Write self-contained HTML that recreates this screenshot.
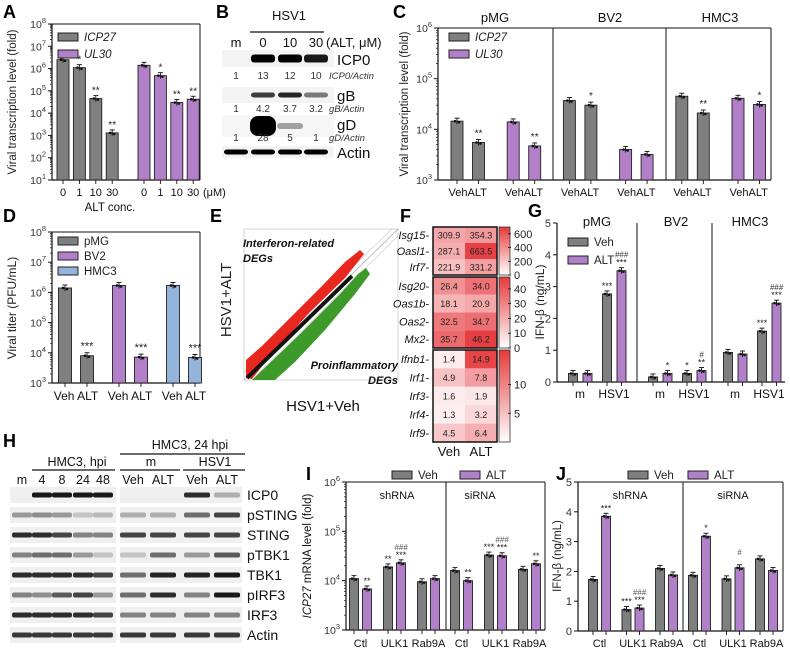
<!DOCTYPE html>
<html><head><meta charset="utf-8"><style>
html,body{margin:0;padding:0;background:#fff;}
svg{display:block;font-family:"Liberation Sans",Arial,sans-serif;}
</style></head><body>
<svg id="fig" width="790" height="652" viewBox="0 0 790 652">
<rect x="0" y="0" width="790" height="652" fill="#fff"/>
</svg>
<script>
// ---------- DATA ----------
const A_ticks=["0","1","10","30"];
const A_icp27=[2.5e6,1.1e6,4.5e4,1.3e3];
const A_ul30=[1.4e6,4.8e5,3e4,4.2e4];
const A_stars_icp27=["","*","**","**"];
const A_stars_ul30=["","*","**","**"];
const C_cells=["pMG","BV2","HMC3"];
const C_icp27=[[1.45e4,5.5e3],[3.7e4,3e4],[4.5e4,2.1e4]];
const C_ul30=[[1.4e4,4.7e3],[4e3,3.2e3],[4.1e4,3.1e4]];
const C_stars_icp27=[["","**"],["","*"],["","**"]];
const C_stars_ul30=[["","**"],["",""],["","*"]];
const D_cells=["pMG","BV2","HMC3"];
const D_veh=[1.4e6,1.7e6,1.7e6];
const D_alt=[8e3,7.2e3,7e3];
const D_stars=["***","***","***"];
const F_genes=["Isg15","Oasl1","Irf7","Isg20","Oas1b","Oas2","Mx2","Ifnb1","Irf1","Irf3","Irf4","Irf9"];
const F_veh=[309.9,287.1,221.9,26.4,18.1,32.5,35.7,1.4,4.9,1.6,1.3,4.5];
const F_alt=[354.3,663.5,331.2,34.0,20.9,34.7,46.2,14.9,7.8,1.9,3.2,6.4];
const F_groupSizes=[3,4,5];
const F_groupMax=[700,48,16];
const F_cbTicks=[["600","400","200","0"],["40","30","20","10","0"],["10","5"]];
const F_cbVals=[[600,400,200,0],[40,30,20,10,0],[10,5]];
const G_cells=["pMG","BV2","HMC3"];
const G_conds=["m","HSV1"];
const G_veh=[[0.27,2.77],[0.16,0.27],[0.93,1.6]];
const G_alt=[[0.27,3.5],[0.27,0.36],[0.88,2.48]];
const G_stars_veh=[["","***"],["","*"],["","***"]];
const G_stars_alt=[["","***"],["*","**"],["","***"]];
const G_hash_alt=[["","###"],["","#"],["","###"]];
const IJ_groups=["shRNA","siRNA"];
const IJ_targets=["Ctl","ULK1","Rab9A"];
const I_veh=[[1.1e4,1.9e4,9.5e3],[1.6e4,3.3e4,1.7e4]];
const I_alt=[[6.8e3,2.3e4,1.1e4],[1.0e4,3.2e4,2.2e4]];
const I_stars_veh=[["","**",""],["","***",""]];
const I_stars_alt=[["**","***",""],["**","***","**"]];
const I_hash_alt=[["","###",""],["","###",""]];
const J_veh=[[1.73,0.72,2.1],[1.87,1.75,2.42]];
const J_alt=[[3.85,0.77,1.88],[3.18,2.12,2.03]];
const J_stars_veh=[["","***",""],["","",""]];
const J_stars_alt=[["***","***",""],["*","",""]];
const J_hash_alt=[["","###",""],["","#",""]];
const B_lanes=["m","0","10","30"];
const B_icp0=[0,1,1,0.9];
const B_gB=[0,0.75,0.85,0.5];
const B_gD=[0,1,0.35,0];
const B_actin=[1,1,1,1];
const B_r_icp0=["1","13","12","10"];
const B_r_gB=["1","4.2","3.7","3.2"];
const B_r_gD=["1","28","5","1"];
const H_leftLanes=["m","4","8","24","48"];
const H_rightLanes=["Veh","ALT","Veh","ALT"];
const H_proteins=["ICP0","pSTING","STING","pTBK1","TBK1","pIRF3","IRF3","Actin"];
const H_left=[[0,1,1,1,1],[0.4,0.45,0.4,0.2,0.25],[0.9,0.9,0.8,0.5,0.5],[0.5,0.6,0.6,0.4,0.2],[0.9,0.9,0.9,0.9,0.8],[0.5,0.45,0.7,0.8,0.4],[0.9,0.9,0.9,0.9,0.8],[0.85,0.85,0.85,0.85,0.85]];
const H_right=[[0,0,0.9,0.3],[0.3,0.3,0.6,0.8],[0.8,0.8,0.8,0.8],[0.2,0.6,0.4,0.7],[0.6,0.95,0.95,1],[0.6,0.9,0.5,1],[0.5,0.5,0.5,0.5],[0.85,0.85,0.85,0.85]];

// ---------- HELPERS ----------
const NS='http://www.w3.org/2000/svg';
const svg=document.getElementById('fig');
const GRAY='#7f7f7f',PURP='#b27fc9',BLUE='#94b4dc';
function mk(tag,attrs,name,parent){
  const e=document.createElementNS(NS,tag);
  for(const k in attrs)e.setAttribute(k,attrs[k]);
  
  
  (parent||svg).appendChild(e);return e;
}
function txt(x,y,s,opts,name){const e=mk('text',Object.assign({x:x,y:y,'font-size':11,fill:'#111'},opts||{}),name);e.textContent=s;return e;}
function line(x1,y1,x2,y2,name,w,c){return mk('line',{x1:x1,y1:y1,x2:x2,y2:y2,stroke:c||'#111','stroke-width':w||1},name);}
function logY(v,e0,e1,yb,yt){return yb-(Math.log10(v)-e0)/(e1-e0)*(yb-yt);}
function linY(v,max,yb,yt){return yb-v/max*(yb-yt);}
function logAxis(x,yb,yt,e0,e1,pre){
  line(x,yb,x,yt,pre+'-y-axis',1.2);
  for(let e=e0;e<=e1;e++){
    const y=logY(Math.pow(10,e),e0,e1,yb,yt);
    line(x-4,y,x,y,pre+'-y-tick',1);
    const t=txt(x-6,y+4,'10',{'text-anchor':'end','font-size':10.5,fill:'#333'},pre+'-y-tick-label');
    const s=document.createElementNS(NS,'tspan');s.setAttribute('dy','-5');s.setAttribute('font-size','7.5');s.textContent=String(e);t.appendChild(s);
    if(e<e1)for(let m=2;m<10;m++){const ym=logY(m*Math.pow(10,e),e0,e1,yb,yt);line(x-2,ym,x,ym,pre+'-y-minor-tick',0.7);}
  }
}
function linAxis(x,yb,yt,max,pre){
  line(x,yb,x,yt,pre+'-y-axis',1.2);
  for(let v=0;v<=max;v++){const y=linY(v,max,yb,yt);line(x-4,y,x,y,pre+'-y-tick',1);
    txt(x-6,y+4,String(v),{'text-anchor':'end','font-size':11,fill:'#333'},pre+'-y-tick-label');}
}
function bar(x,w,yTop,yb,fill,name){
  mk('rect',{x:x-w/2,y:yTop,width:w,height:yb-yTop,fill:fill,stroke:'#222','stroke-width':0.9},name);
  line(x,yTop-3,x,yTop+3,name+'-error',0.9);line(x-2.5,yTop-3,x+2.5,yTop-3,name+'-error-cap',0.9);
  mk('circle',{cx:x-2,cy:yTop,r:1.3,fill:'#111'},name+'-dot');mk('circle',{cx:x+2,cy:yTop+1,r:1.3,fill:'#111'},name+'-dot');
  line(x,yb,x,yb+4,name+'-x-tick',0.9);
}
function star(x,y,s,name,size){if(s)txt(x,y,s,{'text-anchor':'middle','font-size':size||10,fill:'#222'},name);}
function rotTitle(x,y,s,size,name){return txt(x,y,s,{'text-anchor':'middle','font-size':size,transform:'rotate(-90 '+x+' '+y+')',fill:'#222'},name);}
function letter(x,y,s){txt(x,y,s,{'font-size':18,'font-weight':'bold',fill:'#000'},'panel-label-'+s.toLowerCase());}
function legendSw(x,y,fill,label,name,italic){mk('rect',{x:x,y:y,width:20,height:8,fill:fill,stroke:'#222','stroke-width':1},name+'-swatch');
  txt(x+26,y+8,label,{'font-size':11.5,'font-style':italic?'italic':'normal',fill:'#222'},name+'-label');}

// ---------- PANEL A ----------
letter(3,18,'A');
(function(){const yb=180,yt=24,x0=52,x1=200;
 logAxis(x0,yb,yt,1,8,'a');line(x0,yb,x1,yb,'a-x-axis',1.2);line(x0,yt,x1,yt,'a-frame-top',1);line(x1,yt,x1,yb,'a-frame-right',1);
 A_icp27.forEach((v,i)=>{const x=63+i*16.4;const y=logY(v,1,8,yb,yt);bar(x,12,y,yb,GRAY,'a-bar-icp27');star(x,y-5,A_stars_icp27[i],'a-star');
   txt(x,196,A_ticks[i],{'text-anchor':'middle','font-size':11},'a-x-tick-label');});
 A_ul30.forEach((v,i)=>{const x=144+i*16.4;const y=logY(v,1,8,yb,yt);bar(x,12,y,yb,PURP,'a-bar-ul30');star(x,y-5,A_stars_ul30[i],'a-star');
   txt(x,196,A_ticks[i],{'text-anchor':'middle','font-size':11},'a-x-tick-label');});
 txt(203,196,'(μM)',{'font-size':11},'a-unit-label');
 txt(110,211,'ALT conc.',{'text-anchor':'middle','font-size':11.5},'a-x-axis-title');
 legendSw(58,33,GRAY,'ICP27','a-legend-icp27',true);legendSw(58,50,PURP,'UL30','a-legend-ul30',true);
 rotTitle(16,102,'Viral transcription level (fold)',11.5,'a-y-axis-title');
})();

// ---------- PANEL B ----------
letter(216,18,'B');
(function(){const xs=[236,263,290,316];
 txt(289,20,'HSV1',{'text-anchor':'middle','font-size':13},'b-hsv1-label');line(250,32,324,32,'b-hsv1-line',1.2);
 B_lanes.forEach((l,i)=>txt(xs[i],47,l,{'text-anchor':'middle','font-size':13},'b-lane-label'));
 txt(326,47,'(ALT, μM)',{'font-size':13},'b-alt-label');
 function strip(y,h,vals,name,bh){mk('rect',{x:222,y:y,width:112,height:h,fill:'#f3f3f3'},name+'-strip');
   vals.forEach((v,i)=>{if(v>0)mk('rect',{x:xs[i]-12,y:y+h/2-bh/2,width:24,height:bh,rx:3,fill:'#000','fill-opacity':v},name+'-band');});}
 strip(50,17,B_icp0,'b-icp0',8);txt(337,65,'ICP0',{'font-size':15},'b-icp0-label');
 function ratios(y,vals,lab,name){vals.forEach((v,i)=>txt(xs[i],y,v,{'text-anchor':'middle','font-size':10,fill:'#333'},name));
   txt(329,y,lab,{'font-size':9.5,'font-style':'italic',fill:'#333'},name+'-label');}
 ratios(79,B_r_icp0,'ICP0/Actin','b-icp0-ratio');
 strip(87,16,B_gB,'b-gb',5);txt(337,101,'gB',{'font-size':15},'b-gb-label');
 ratios(112,B_r_gB,'gB/Actin','b-gb-ratio');
 mk('rect',{x:222,y:115,width:112,height:22,fill:'#f6f6f6'},'b-gd-strip');
 B_gD.forEach((v,i)=>{if(v>0)mk('rect',{x:xs[i]-13,y:126-(v>0.8?10:3),width:26,height:v>0.8?20:6,rx:v>0.8?8:3,fill:'#000','fill-opacity':v},'b-gd-band');});
 txt(337,130,'gD',{'font-size':15},'b-gd-label');
 ratios(141,B_r_gD,'gD/Actin','b-gd-ratio');
 strip(146,12,B_actin,'b-actin',5);txt(337,158,'Actin',{'font-size':15},'b-actin-label');
})();

// ---------- PANEL C ----------
letter(393,18,'C');
(function(){const yb=180,yt=28,x0=438,x1=771;
 logAxis(x0,yb,yt,3,6,'c');line(x0,yb,x1,yb,'c-x-axis',1.2);line(x0,yt,x1,yt,'c-frame-top',1);line(x1,yt,x1,yb,'c-frame-right',1);
 line(553,yt,553,yb,'c-divider',1);line(666,yt,666,yb,'c-divider',1);
 const cx=[495,610,720];C_cells.forEach((c,k)=>txt(cx[k],22,c,{'text-anchor':'middle','font-size':13},'c-cell-title'));
 for(let k=0;k<3;k++){[[C_icp27,GRAY,C_stars_icp27,'icp27'],[C_ul30,PURP,C_stars_ul30,'ul30']].forEach((g,gi)=>{
   const base=457+(k*2+gi)*56.2;
   for(let j=0;j<2;j++){const x=base+j*21.5;const y=logY(g[0][k][j],3,6,yb,yt);bar(x,12,y,yb,g[1],'c-bar-'+g[3]);star(x,y-6,g[2][k][j],'c-star');}
   txt(base+10.7,196,'VehALT',{'text-anchor':'middle','font-size':11},'c-x-tick-label');});}
 legendSw(449,33,GRAY,'ICP27','c-legend-icp27',true);legendSw(449,50,PURP,'UL30','c-legend-ul30',true);
 rotTitle(408,104,'Viral transcription level (fold)',11.5,'c-y-axis-title');
})();

// ---------- PANEL D ----------
letter(3,222,'D');
(function(){const yb=383,yt=232,x0=52,x1=200;const cols=[GRAY,PURP,BLUE];
 logAxis(x0,yb,yt,3,8,'d');line(x0,yb,x1,yb,'d-x-axis',1.2);line(x0,yt,x1,yt,'d-frame-top',1);line(x1,yt,x1,yb,'d-frame-right',1);
 D_veh.forEach((v,k)=>{const xa=65+k*54,xb=xa+22;const ya=logY(v,3,8,yb,yt),yb2=logY(D_alt[k],3,8,yb,yt);
   bar(xa,13,ya,yb,cols[k],'d-bar-veh');bar(xb,13,yb2,yb,cols[k],'d-bar-alt');star(xb,yb2-6,D_stars[k],'d-star',11);
   txt(xa+11,400,'Veh ALT',{'text-anchor':'middle','font-size':12},'d-x-tick-label');});
 D_cells.forEach((c,k)=>legendSw(58,237+k*15,cols[k],c,'d-legend-'+c.toLowerCase(),false));
 rotTitle(16,308,'Viral titer (PFU/mL)',12,'d-y-axis-title');
})();

// ---------- PANEL E ----------
letter(210,222,'E');
(function(){
 mk('rect',{x:244,y:229,width:154,height:151,fill:'#fff',stroke:'#ccc','stroke-width':0.8},'e-plot-frame');
 line(244,380,398,229,'e-diagonal',0.6,'#999');line(244,372,392,229,'e-diagonal-upper',0.5,'#aaa');line(252,380,398,236,'e-diagonal-lower',0.5,'#aaa');
 mk('polygon',{points:'246,378 246,360 262,346 292,316 322,286 345,262 360,250 364,254 345,278 310,312 270,356 252,379',fill:'#e8281e'},'e-upregulated-points');
 mk('polygon',{points:'252,380 300,334 340,294 358,274 366,268 370,274 355,294 325,330 295,362 275,380',fill:'#3d9a2a'},'e-downregulated-points');
 line(247,378,352,276,'e-unchanged-points',4,'#111');
 txt(243,247,'Interferon-related',{'font-size':11,'font-style':'italic','font-weight':'bold'},'e-annotation-interferon');
 txt(243,262,'DEGs',{'font-size':11,'font-style':'italic','font-weight':'bold'},'e-annotation-interferon-2');
 txt(398,369,'Proinflammatory',{'font-size':11,'font-style':'italic','font-weight':'bold','text-anchor':'end'},'e-annotation-proinflammatory');
 txt(398,384,'DEGs',{'font-size':11,'font-style':'italic','font-weight':'bold','text-anchor':'end'},'e-annotation-proinflammatory-2');
 rotTitle(231,300,'HSV1+ALT',15,'e-y-axis-title');
 txt(323,411,'HSV1+Veh',{'text-anchor':'middle','font-size':15},'e-x-axis-title');
})();

// ---------- PANEL F ----------
letter(400,222,'F');
(function(){const xv=433,xa=465,cw=32;const ranges=[[227,275],[277,348],[350,442]];
 function col(v,max){const t=Math.min(1,v/max);const r=255-Math.round(t*25),g=255-Math.round(t*200),b=255-Math.round(t*195);return 'rgb('+r+','+g+','+b+')';}
 let idx=0;
 F_groupSizes.forEach((n,gi)=>{const [y0,y1]=ranges[gi];const rh=(y1-y0)/n;const max=F_groupMax[gi];
   for(let r=0;r<n;r++,idx++){const y=y0+r*rh;
     mk('rect',{x:xv,y:y,width:cw,height:rh,fill:col(F_veh[idx],max)},'f-cell-veh');
     mk('rect',{x:xa,y:y,width:cw,height:rh,fill:col(F_alt[idx],max)},'f-cell-alt');
     txt(xv+cw/2,y+rh/2+3.5,F_veh[idx].toFixed(1),{'text-anchor':'middle','font-size':9,fill:'#222'},'f-value-veh');
     txt(xa+cw/2,y+rh/2+3.5,F_alt[idx].toFixed(1),{'text-anchor':'middle','font-size':9,fill:'#222'},'f-value-alt');
     txt(xv-4,y+rh/2+4,F_genes[idx]+'-',{'text-anchor':'end','font-size':11,'font-style':'italic'},'f-gene-label');}
   mk('rect',{x:xv,y:y0,width:2*cw,height:y1-y0,fill:'none',stroke:'#111','stroke-width':1.5},'f-group-frame');
   mk('rect',{x:499,y:y0,width:11,height:y1-y0,fill:'url(#cbg)',stroke:'#333','stroke-width':0.8},'f-colorbar');
   F_cbVals[gi].forEach((v,ti)=>{const yy=y1-(v/max)*(y1-y0);line(508,yy,511,yy,'f-colorbar-tick',0.8);
     txt(514,yy+4,F_cbTicks[gi][ti],{'font-size':11,fill:'#222'},'f-colorbar-label');});
 });
 txt(449,456,'Veh',{'text-anchor':'middle','font-size':13},'f-x-label-veh');txt(481,456,'ALT',{'text-anchor':'middle','font-size':13},'f-x-label-alt');
 const defs=document.createElementNS(NS,'defs');defs.innerHTML='<linearGradient id="cbg" x1="0" y1="1" x2="0" y2="0"><stop offset="0" stop-color="#fff"/><stop offset="1" stop-color="#e63a3a"/></linearGradient>';svg.insertBefore(defs,svg.firstChild);
})();

// ---------- PANEL G ----------
letter(528,217,'G');
(function(){const yb=382,yt=223,x0=557,x1=785;const cl=[557,637,712];
 linAxis(x0,yb,yt,5,'g');line(x0,yb,x1,yb,'g-x-axis',1.2);line(637,yt,637,yb,'g-divider',1);line(712,yt,712,yb,'g-divider',1);
 const tx=[597,676,750];G_cells.forEach((c,k)=>txt(tx[k],226,c,{'text-anchor':'middle','font-size':13},'g-cell-title'));
 for(let k=0;k<3;k++)for(let c=0;c<2;c++){const xv=cl[k]+16+c*34,xa=xv+14.5;
   const yv=linY(G_veh[k][c],5,yb,yt),ya=linY(G_alt[k][c],5,yb,yt);
   bar(xv,9,yv,yb,GRAY,'g-bar-veh');bar(xa,9,ya,yb,PURP,'g-bar-alt');
   star(xv,yv-5,G_stars_veh[k][c],'g-star',9);star(xa,ya-5,G_stars_alt[k][c],'g-star',9);
   if(G_hash_alt[k][c])txt(xa,ya-13,G_hash_alt[k][c],{'text-anchor':'middle','font-size':8,'font-style':'italic',fill:'#333'},'g-hash');
   txt(xv+7,398,G_conds[c],{'text-anchor':'middle','font-size':12},'g-x-tick-label');}
 legendSw(568,238,GRAY,'Veh','g-legend-veh',false);legendSw(568,256,PURP,'ALT','g-legend-alt',false);
 rotTitle(544,302,'IFN-β (ng/mL)',12,'g-y-axis-title');
})();

// ---------- PANEL H ----------
letter(3,447,'H');
(function(){const lx=[22,42,62,83,103],rx=[133,163,197,227];
 txt(190,449,'HMC3, 24 hpi',{'text-anchor':'middle','font-size':12.5},'h-header-24hpi');line(120,454,245,454,'h-header-line',1.2);
 txt(77,466,'HMC3, hpi',{'text-anchor':'middle','font-size':12.5},'h-header-hpi');line(32,470,115,470,'h-header-line',1.2);
 txt(151,466,'m',{'text-anchor':'middle','font-size':12.5},'h-header-mock');line(120,470,180,470,'h-header-line',1.2);
 txt(215,466,'HSV1',{'text-anchor':'middle','font-size':12.5},'h-header-hsv1');line(183,470,245,470,'h-header-line',1.2);
 H_leftLanes.forEach((l,i)=>txt(lx[i],484,l,{'text-anchor':'middle','font-size':12.5},'h-lane-label'));
 H_rightLanes.forEach((l,i)=>txt(rx[i],484,l,{'text-anchor':'middle','font-size':12.5},'h-lane-label'));
 H_proteins.forEach((p,r)=>{const y=495+r*20;
   mk('rect',{x:10,y:y-8,width:106,height:16,fill:'#efefef'},'h-strip-left');
   mk('rect',{x:120,y:y-8,width:122,height:16,fill:'#efefef'},'h-strip-right');
   H_left[r].forEach((v,i)=>{if(v>0)mk('rect',{x:lx[i]-10,y:y-2.5,width:20,height:5,rx:2,fill:'#000','fill-opacity':v*0.9},'h-band');});
   H_right[r].forEach((v,i)=>{if(v>0)mk('rect',{x:rx[i]-13,y:y-2.5,width:26,height:5,rx:2,fill:'#000','fill-opacity':v*0.9},'h-band');});
   txt(247,y+5,p,{'font-size':14},'h-protein-label');});
})();

// ---------- PANEL I ----------
letter(306,480,'I');
(function(){const yb=630,yt=482,x0=346,x1=545;
 logAxis(x0,yb,yt,3,6,'i');line(x0,yb,x1,yb,'i-x-axis',1.2);line(x0,yt,x1,yt,'i-frame-top',1);line(x1,yt,x1,yb,'i-frame-right',1);line(446,yt,446,yb,'i-divider',1);
 const tx=[397,480];IJ_groups.forEach((g,k)=>txt(tx[k],499,g,{'text-anchor':'middle','font-size':11},'i-group-title'));
 for(let g=0;g<2;g++)for(let k=0;k<3;k++){const xv=354+g*101+k*34,xa=xv+13;
   const yv=logY(I_veh[g][k],3,6,yb,yt),ya=logY(I_alt[g][k],3,6,yb,yt);
   bar(xv,9,yv,yb,GRAY,'i-bar-veh');bar(xa,9,ya,yb,PURP,'i-bar-alt');
   star(xv,yv-5,I_stars_veh[g][k],'i-star',9);star(xa,ya-5,I_stars_alt[g][k],'i-star',9);
   if(I_hash_alt[g][k])txt(xa,ya-13,I_hash_alt[g][k],{'text-anchor':'middle','font-size':8,'font-style':'italic',fill:'#555'},'i-hash');
   txt(xv+6.5,647,IJ_targets[k],{'text-anchor':'middle','font-size':11},'i-x-tick-label');}
 legendSw(392,471,GRAY,'Veh','i-legend-veh',false);legendSw(460,471,PURP,'ALT','i-legend-alt',false);
 const t=txt(311,556,'',{'text-anchor':'middle','font-size':11.5,transform:'rotate(-90 311 556)'},'i-y-axis-title');
 t.innerHTML='<tspan font-style="italic">ICP27</tspan> mRNA level (fold)';
})();

// ---------- PANEL J ----------
letter(556,480,'J');
(function(){const yb=631,yt=482,x0=578,x1=783;
 linAxis(x0,yb,yt,5,'j');line(x0,yb,x1,yb,'j-x-axis',1.2);line(x0,yt,x1,yt,'j-frame-top',1);line(x1,yt,x1,yb,'j-frame-right',1);line(683,yt,683,yb,'j-divider',1);
 const tx=[630,733];IJ_groups.forEach((g,k)=>txt(tx[k],499,g,{'text-anchor':'middle','font-size':11},'j-group-title'));
 for(let g=0;g<2;g++)for(let k=0;k<3;k++){const xv=593+g*100+k*33.5,xa=xv+13;
   const yv=linY(J_veh[g][k],5,yb,yt),ya=linY(J_alt[g][k],5,yb,yt);
   bar(xv,9,yv,yb,GRAY,'j-bar-veh');bar(xa,9,ya,yb,PURP,'j-bar-alt');
   star(xv,yv-5,J_stars_veh[g][k],'j-star',9);star(xa,ya-5,J_stars_alt[g][k],'j-star',9);
   if(J_hash_alt[g][k])txt(xa,ya-13,J_hash_alt[g][k],{'text-anchor':'middle','font-size':8,'font-style':'italic',fill:'#555'},'j-hash');
   txt(xv+6.5,647,IJ_targets[k],{'text-anchor':'middle','font-size':11},'j-x-tick-label');}
 legendSw(628,471,GRAY,'Veh','j-legend-veh',false);legendSw(688,471,PURP,'ALT','j-legend-alt',false);
 rotTitle(561,556,'IFN-β (ng/mL)',11.5,'j-y-axis-title');
})();
</script>
</body></html>
